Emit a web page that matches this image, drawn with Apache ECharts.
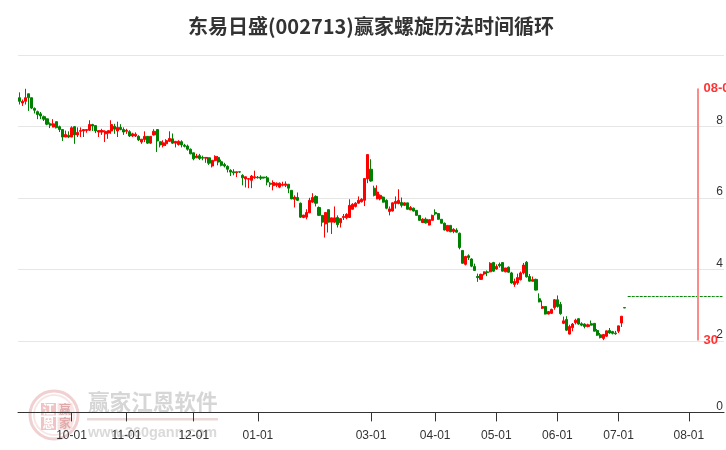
<!DOCTYPE html>
<html><head><meta charset="utf-8">
<style>html,body{margin:0;padding:0;background:#fff;overflow:hidden}#c{width:726px;height:450px}</style>
<script src="https://cdn.jsdelivr.net/npm/echarts@6/dist/echarts.min.js"></script>
</head><body><div id="c"></div>
<script>
const titleText = '东易日盛(002713)赢家螺旋历法时间循环';
const tickIndex = [17,35,57,78,115,136,156,176,196,219];
const tickLabels = ['10-01','11-01','12-01','01-01','03-01','04-01','05-01','06-01','07-01','08-01'];
const categoryCount = 231;
const priceTicks = {min:0,max:10,interval:2};
const cycleLine = {index:222, top:9.06, bottom:2.01, topLabel:'08-05', bottomLabel:'30'};
const projectionLevel = 3.24;
const projectionStart = 199;
// open, close, low, high
const ohlc = [
[8.80,8.70,8.61,8.95],[8.65,8.70,8.57,8.75],[8.70,8.80,8.61,9.05],[8.91,8.80,8.43,8.91],[8.80,8.51,8.48,8.80],
[8.50,8.45,8.36,8.53],[8.41,8.33,8.20,8.44],[8.35,8.29,8.20,8.40],[8.27,8.20,8.15,8.30],[8.21,8.06,8.03,8.21],
[8.07,8.03,7.95,8.11],[7.98,8.07,7.97,8.20],[8.13,7.96,7.94,8.13],[7.99,7.91,7.84,8.02],[7.91,7.70,7.59,7.91],
[7.70,7.77,7.70,7.88],[7.75,7.70,7.67,7.86],[7.70,7.96,7.70,8.00],[7.99,7.76,7.51,8.00],[7.76,7.83,7.70,7.97],
[7.86,7.88,7.70,7.97],[7.87,7.91,7.70,7.91],[7.88,7.91,7.82,7.91],[7.89,8.05,7.87,8.17],[8.05,8.01,7.87,8.07],
[8.02,7.87,7.81,8.02],[7.84,7.88,7.70,7.88],[7.84,7.88,7.76,7.93],[7.79,7.86,7.56,7.89],[7.81,7.88,7.65,7.88],
[7.87,8.05,7.79,8.17],[8.00,7.92,7.79,8.07],[7.87,7.97,7.70,8.13],[7.97,7.91,7.89,8.06],[7.91,7.84,7.76,7.97],
[7.86,7.89,7.79,7.93],[7.85,7.73,7.70,7.89],[7.73,7.79,7.70,7.82],[7.73,7.78,7.70,7.83],[7.72,7.62,7.59,7.75],
[7.56,7.64,7.51,7.64],[7.63,7.72,7.56,7.86],[7.72,7.53,7.51,7.72],[7.53,7.72,7.51,7.72],[7.76,7.86,7.74,7.92],
[7.91,7.59,7.28,7.91],[7.57,7.48,7.41,7.57],[7.46,7.54,7.41,7.61],[7.51,7.60,7.45,7.64],[7.58,7.66,7.57,7.86],
[7.65,7.53,7.51,7.80],[7.53,7.58,7.41,7.58],[7.49,7.58,7.46,7.61],[7.57,7.48,7.41,7.61],[7.47,7.44,7.41,7.51],
[7.45,7.36,7.32,7.49],[7.36,7.23,7.22,7.38],[7.26,7.09,7.05,7.26],[7.12,7.17,7.11,7.23],[7.18,7.10,7.06,7.23],
[7.13,7.11,7.05,7.18],[7.11,7.13,6.98,7.13],[7.12,6.97,6.92,7.12],[6.89,7.05,6.85,7.05],[7.04,7.16,7.02,7.19],
[7.13,7.00,6.91,7.17],[7.01,6.91,6.88,7.07],[6.93,6.89,6.85,6.98],[6.88,6.80,6.71,6.91],[6.77,6.72,6.61,6.80],
[6.73,6.70,6.63,6.80],[6.70,6.73,6.58,6.73],[6.73,6.72,6.70,6.73],[6.63,6.56,6.35,6.66],[6.53,6.59,6.29,6.59],
[6.52,6.54,6.27,6.54],[6.49,6.61,6.27,6.64],[6.56,6.59,6.53,6.76],[6.58,6.56,6.54,6.61],[6.58,6.55,6.50,6.63],
[6.58,6.56,6.54,6.58],[6.56,6.44,6.35,6.61],[6.41,6.38,6.30,6.44],[6.34,6.43,6.21,6.49],[6.35,6.41,6.30,6.43],
[6.30,6.41,6.27,6.43],[6.35,6.38,6.32,6.45],[6.35,6.39,6.30,6.46],[6.38,6.27,6.13,6.38],[6.21,5.97,5.96,6.21],
[5.96,6.02,5.73,6.07],[6.01,5.93,5.91,6.15],[5.85,5.46,5.44,5.87],[5.45,5.52,5.43,5.52],[5.46,5.59,5.40,5.68],
[5.58,5.93,5.58,6.00],[5.88,6.01,5.86,6.13],[6.04,5.85,5.76,6.07],[5.73,5.51,5.49,5.76],[5.51,5.32,5.20,5.51],
[5.27,5.59,4.89,5.59],[5.67,5.32,5.03,5.67],[5.32,5.44,4.99,5.44],[5.32,5.44,5.30,5.76],[5.45,5.25,5.17,5.51],
[5.30,5.42,5.17,5.42],[5.45,5.48,5.38,5.55],[5.44,5.54,5.40,5.57],[5.45,5.79,5.45,5.96],[5.68,5.82,5.68,5.85],
[5.76,5.85,5.73,5.88],[5.85,5.93,5.84,6.04],[5.89,5.96,5.87,5.99],[5.93,6.54,5.77,6.54],[6.53,7.21,6.41,7.21],
[6.80,6.47,6.45,7.08],[6.27,6.07,6.04,6.34],[5.97,6.16,5.96,6.35],[5.97,6.07,5.93,6.10],[6.02,5.88,5.87,6.04],
[5.93,5.71,5.68,5.96],[5.62,5.69,5.51,5.76],[5.63,5.86,5.62,5.87],[5.84,5.90,5.70,6.04],[5.84,5.93,5.82,6.24],
[5.87,5.79,5.73,6.01],[5.79,5.86,5.77,5.87],[5.86,5.68,5.68,5.86],[5.66,5.73,5.66,5.77],[5.71,5.63,5.62,5.73],
[5.65,5.51,5.51,5.65],[5.51,5.37,5.36,5.51],[5.31,5.40,5.30,5.43],[5.40,5.30,5.28,5.45],[5.24,5.39,5.23,5.39],
[5.37,5.51,5.36,5.53],[5.59,5.55,5.51,5.68],[5.56,5.40,5.39,5.57],[5.40,5.29,5.28,5.40],[5.29,5.10,5.09,5.31],
[5.07,5.23,5.06,5.23],[5.23,5.05,5.04,5.23],[5.06,5.12,5.01,5.15],[5.10,5.04,5.03,5.15],[5.01,4.61,4.56,5.03],
[4.53,4.17,4.16,4.53],[4.14,4.36,4.11,4.38],[4.38,4.33,4.26,4.42],[4.29,4.09,4.06,4.31],[4.08,3.97,3.97,4.16],
[3.80,3.77,3.65,3.88],[3.72,3.86,3.71,3.88],[3.87,3.93,3.83,3.94],[3.93,3.91,3.81,3.97],[3.93,4.17,3.92,4.20],
[4.19,3.95,3.93,4.21],[4.01,4.08,3.99,4.14],[4.14,4.10,4.05,4.19],[4.19,3.95,3.94,4.19],[3.93,4.04,3.92,4.04],
[4.06,3.92,3.91,4.08],[3.90,3.62,3.60,3.93],[3.58,3.66,3.51,3.74],[3.62,3.77,3.57,3.88],[3.71,3.90,3.69,3.94],
[3.90,4.12,3.86,4.18],[4.20,3.79,3.77,4.23],[3.80,3.67,3.66,3.87],[3.67,3.71,3.66,3.80],[3.72,3.42,3.41,3.74],
[3.18,3.09,3.08,3.33],[2.91,2.96,2.89,3.13],[2.96,2.75,2.74,2.97],[2.75,2.82,2.74,2.83],[2.77,2.88,2.75,2.90],
[2.93,3.15,2.87,3.17],[3.15,2.96,2.93,3.27],[3.02,2.76,2.73,3.09],[2.49,2.56,2.47,2.68],[2.60,2.30,2.28,2.69],
[2.19,2.40,2.18,2.45],[2.37,2.47,2.27,2.50],[2.51,2.58,2.46,2.62],[2.62,2.47,2.45,2.63],[2.48,2.44,2.41,2.52],
[2.47,2.40,2.35,2.49],[2.40,2.45,2.38,2.48],[2.48,2.44,2.43,2.57],[2.49,2.27,2.27,2.49],[2.29,2.16,2.14,2.33],
[2.17,2.09,2.07,2.22],[2.07,2.18,2.02,2.19],[2.13,2.28,2.11,2.29],[2.29,2.22,2.20,2.36],[2.26,2.21,2.18,2.28],
[2.22,2.20,2.17,2.28],[2.27,2.42,2.22,2.42],[2.50,2.69,2.39,2.69],[2.93,2.92,2.92,2.93]
];

const categories = [];
for (let i = 0; i < categoryCount; i++) {
  const k = tickIndex.indexOf(i);
  categories.push(k >= 0 ? tickLabels[k] : ' ' + i);
}
const isTick = i => tickIndex.indexOf(i) >= 0;
const projection = [];
for (let i = projectionStart; i < categoryCount; i++) projection.push([i, projectionLevel]);

const chart = echarts.init(document.getElementById('c'), null, {renderer:'canvas', width:726, height:450});
const axisFont = {fontFamily:'"Liberation Sans",Arial,sans-serif', fontSize:12, color:'#333'};
const wm = (o) => Object.assign({silent:true, z:-1}, o);
const tile = (x,y,w,h,ch,fill,txt) => [
  wm({type:'rect', shape:{x,y,width:w,height:h}, style:{fill}}),
  wm({type:'text', x:x+w/2, y:y+h/2, style:{text:ch, fill:txt, font:'bold 12px "Noto Sans CJK SC"', align:'center', verticalAlign:'middle'}})
];
const flagLabel = {show:true, position:'right', distance:5, color:'#f00',
  fontFamily:'"Liberation Sans",Arial', fontWeight:'bold', fontSize:13};
chart.setOption({
  animation:false,
  backgroundColor:'#fff',
  title:{text:titleText, left:183, top:7, textStyle:{fontFamily:'"Noto Sans CJK SC"', fontWeight:'bold', fontSize:20, color:'#333', lineHeight:28}},
  grid:{left:18, right:2, top:54.8, bottom:37.6},
  xAxis:{type:'category', data:categories, boundaryGap:true,
    axisLine:{lineStyle:{color:'#333',width:1}},
    axisTick:{show:true, alignWithLabel:true, length:9, interval:(i)=>isTick(i), lineStyle:{color:'#333'}},
    axisLabel:Object.assign({interval:(i)=>isTick(i), margin:17, hideOverlap:false}, axisFont),
    splitLine:{show:false}},
  yAxis:{type:'value', position:'right', min:priceTicks.min, max:priceTicks.max, interval:priceTicks.interval,
    axisLine:{show:false}, axisTick:{show:false},
    axisLabel:Object.assign({inside:true, margin:1, verticalAlign:'bottom', showMaxLabel:false}, axisFont),
    splitLine:{show:true, lineStyle:{color:'#e6e6e6', width:1}}},
  series:[
    {type:'candlestick', data:ohlc, barWidth:2.6,
      itemStyle:{color:'#ff0000', color0:'#008000', borderColor:'#ff0000', borderColor0:'#008000', borderWidth:1}},
    {type:'line', data:projection, showSymbol:false, symbol:'none', clip:false,
      lineStyle:{color:'#008000', width:1, type:[3,1]}},
    {type:'line', symbol:'none', showSymbol:false, clip:false,
      lineStyle:{color:'#ff8a8a', width:2},
      data:[[cycleLine.index, cycleLine.top],[cycleLine.index, cycleLine.bottom]]},
    {type:'scatter', symbol:'circle', symbolSize:1, itemStyle:{color:'rgba(255,0,0,0)'}, clip:false, z:5,
      data:[
        {value:[cycleLine.index, cycleLine.top], label:Object.assign({formatter:cycleLine.topLabel}, flagLabel)},
        {value:[cycleLine.index, cycleLine.bottom], label:Object.assign({formatter:cycleLine.bottomLabel}, flagLabel)}
      ]}
  ],
  graphic:{elements:[
    wm({type:'circle', shape:{cx:54,cy:415,r:24}, style:{fill:'none', stroke:'#f0d0d0', lineWidth:3}}),
    wm({type:'circle', shape:{cx:54,cy:415,r:20}, style:{fill:'none', stroke:'#f8e6e6', lineWidth:2}}),
    ...tile(41,403,15,12.5,'江','#f0c4c4','#fff'),
    ...tile(57.5,403,15,12.5,'赢','#f8e4e4','#e0aaaa'),
    ...tile(41,417,15,13,'恩','#f0c4c4','#fff'),
    ...tile(57.5,417,15,13,'家','#f8e4e4','#e0aaaa'),
    wm({type:'text', x:88, y:402, style:{text:'赢家江恩软件', fill:'#d6d6d6', font:'bold 21.6px "Noto Sans CJK SC"', verticalAlign:'middle'}}),
    wm({type:'rect', shape:{x:87,y:418,width:131,height:2.5}, style:{fill:'#ead8d8'}}),
    wm({type:'text', x:88, y:433, style:{text:'www.360gann.com', fill:'#dadada', font:'bold 14.4px "Liberation Sans"', verticalAlign:'middle'}})
  ]}
});
</script></body></html>
